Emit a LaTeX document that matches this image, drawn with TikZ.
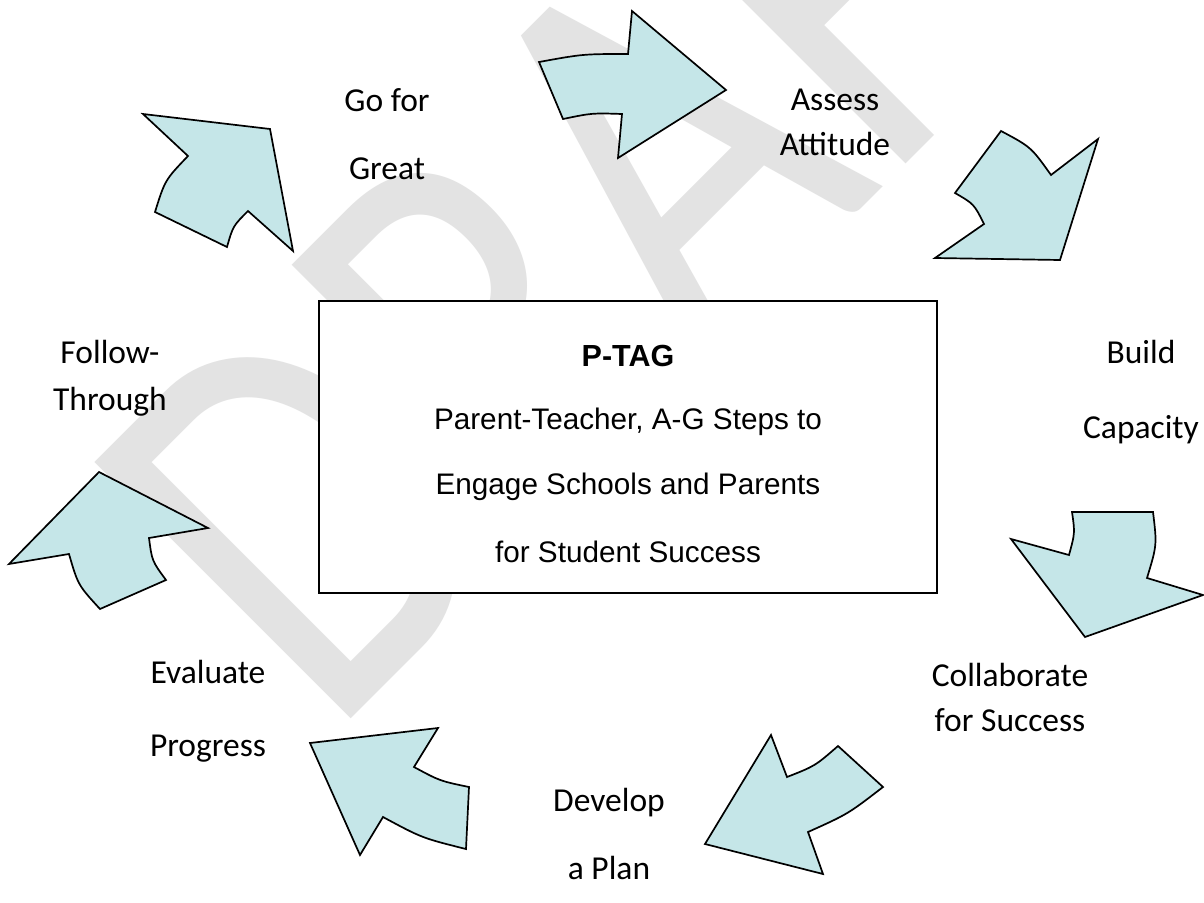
\documentclass[tikz,border=0pt]{standalone}
\usepackage{graphicx}
\usepackage{fontspec}
\setmainfont{Carlito}
\newfontfamily\arialfont{Liberation Sans}
\definecolor{arrowfill}{RGB}{197,230,232}
\definecolor{wmgray}{RGB}{227,227,227}
\begin{document}
\begin{tikzpicture}[x=1pt,y=-1pt,
  arrowshape/.style={fill=arrowfill, draw=black, line width=1.7pt, line join=miter},
  lbl/.style={align=center, inner sep=0pt},
  boxtxt/.style={font=\arialfont\fontsize{29.7}{31}\selectfont, inner sep=0pt}]
\useasboundingbox (0,0) rectangle (1204,902);
\fill[white] (0,0) rectangle (1204,902);
% watermark
\node[rotate=45, text=wmgray, font=\fontsize{565}{565}\selectfont, inner sep=0pt, anchor=base west] (wm) at (329,741) {\scalebox{0.8}[1]{DRAFT}};
% centre box
\node[draw, fill=white, line width=1.6pt, minimum width=618pt, minimum height=292pt, inner sep=0pt] (box) at (628,447) {};
\node[boxtxt, font=\arialfont\bfseries\fontsize{30.5}{31}\selectfont] (t1) at (628,356) {P-TAG};
\node[boxtxt] (t2) at (628,422) {Parent-Teacher, A-G Steps to};
\node[boxtxt] (t3) at (628,487) {Engage Schools and Parents};
\node[boxtxt] (t4) at (628,552) {for Student Success};
% labels
\node[lbl, font=\fontsize{33.5}{68}\selectfont] (l1) at (387,134) {Go for\\Great};
\node[lbl, font=\fontsize{33.5}{45}\selectfont] (l2) at (835,122) {Assess\\Attitude};
\node[lbl, font=\fontsize{33.5}{75}\selectfont] (l3) at (1141,392) {Build\\Capacity};
\node[lbl, font=\fontsize{33.5}{45}\selectfont] (l4) at (1010,697) {Collaborate\\for Success};
\node[lbl, font=\fontsize{33.5}{68}\selectfont] (l5) at (609,834) {Develop\\a Plan};
\node[lbl, font=\fontsize{33.5}{73}\selectfont] (l6) at (208,711) {Evaluate\\Progress};
\node[lbl, font=\fontsize{33.5}{47}\selectfont] (l7) at (110,378) {Follow-\\Through};
% arrows
\draw[arrowshape] (539,62) .. controls (583,54) .. (628,54) -- (632,11) -- (726,90) -- (618,158) -- (622,114) .. controls (592,113) .. (563,119) -- cycle;
\draw[arrowshape] (1001,131) -- (955,193) .. controls (974,204) .. (984,224) -- (935,258) -- (1060,260) -- (1098,139) -- (1051,175) .. controls (1031,147) .. cycle;
\draw[arrowshape] (1072,512) -- (1153,512) .. controls (1157,545) .. (1147,578) -- (1203,595) -- (1085,637) -- (1011,539) -- (1069,555) .. controls (1075,533) .. cycle;
\draw[arrowshape] (771,735) -- (787,777) .. controls (815,766) .. (838,746) -- (883,787) .. controls (848,814) .. (808,832) -- (823,874) -- (705,844) -- cycle;
\draw[arrowshape] (310,743) -- (438,728) -- (414,767) .. controls (440,781) .. (469,787) -- (466,849) .. controls (422,838) .. (383,817) -- (360,855) -- cycle;
\draw[arrowshape] (99,472) -- (208,528) -- (149,538) .. controls (152,561) .. (166,580) -- (100,609) .. controls (78,585) .. (69,554) -- (9,564) -- cycle;
\draw[arrowshape] (143,114) -- (270,129) -- (293,251) -- (248,211) .. controls (233,226) .. (227,247) -- (155,212) .. controls (165,180) .. (188,156) -- cycle;
\end{tikzpicture}
\end{document}
